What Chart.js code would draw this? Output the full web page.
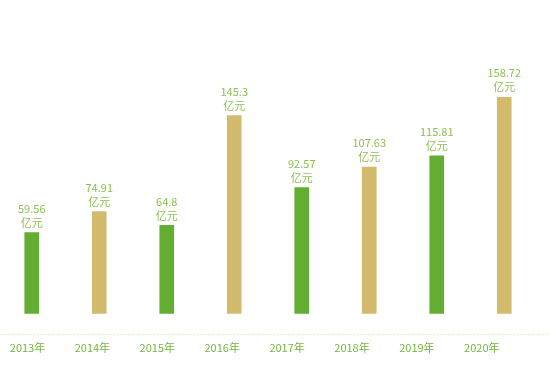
<!DOCTYPE html>
<html>
<head>
<meta charset="utf-8">
<script src="https://cdn.jsdelivr.net/npm/chart.js@4/dist/chart.umd.min.js"></script>
<style>
html,body{margin:0;padding:0;background:#fff;overflow:hidden;width:550px;height:373px;}
#wrap{position:absolute;left:-2px;top:0;width:552px;height:373px;}
</style>
</head>
<body>
<div id="wrap"><canvas id="c" width="552" height="373"></canvas></div>
<script>
const years = ["2013年","2014年","2015年","2016年","2017年","2018年","2019年","2020年"];
const values = [59.56, 74.91, 64.8, 145.3, 92.57, 107.63, 115.81, 158.72];
const unit = "亿元";
const GREEN = "#63ad32", TAN = "#d2bb6c";
const barColors = values.map((v,i)=> i%2===0 ? GREEN : TAN);
const FONT = '"Noto Sans CJK SC", "Noto Sans", sans-serif';

const labelPlugin = {
  id:'valueLabels',
  afterDatasetsDraw(chart){
    const ctx = chart.ctx;
    const meta = chart.getDatasetMeta(0);
    ctx.save();
    ctx.font = '11px ' + FONT;
    ctx.fillStyle = '#8cc152';
    ctx.textAlign = 'center';
    ctx.textBaseline = 'middle';
    meta.data.forEach((bar,i)=>{
      const x = bar.x, y = bar.y;
      ctx.fillText(String(values[i]), x, y - 24);
      ctx.fillText(unit, x, y - 10);
    });
    ctx.restore();
  }
};
const dotLine = {
  id:'dotLine',
  beforeDatasetsDraw(chart){
    const ctx = chart.ctx;
    const y = chart.chartArea.bottom + 20.5;
    ctx.save();
    ctx.strokeStyle = '#f3d49a';
    ctx.lineWidth = 1;
    ctx.setLineDash([1,1.5]);
    ctx.beginPath();
    ctx.moveTo(0, y);
    ctx.lineTo(chart.width, y);
    ctx.stroke();
    ctx.restore();
  }
};

new Chart(document.getElementById('c'), {
  type:'bar',
  data:{
    labels: years,
    datasets:[{data: values, backgroundColor: barColors, barThickness:14, borderWidth:0}]
  },
  options:{
    responsive:false,
    animation:false,
    layout:{padding:{left:0,right:12,top:41,bottom:19}},
    plugins:{legend:{display:false}, tooltip:{enabled:false}},
    scales:{
      x:{display:false},
      y:{display:false, min:0, max:200},
      x2:{
        type:'linear', position:'bottom', axis:'x', bounds:'data', offset:false,
        min:-0.4545, max:7.866,
        afterBuildTicks(ax){ ax.ticks = years.map((_,i)=>({value:i})); },
        afterDataLimits(ax){ ax.min = -0.4545; ax.max = 7.866; },
        grid:{display:false, offset:false, drawTicks:true, tickLength:27},
        border:{display:false},
        ticks:{
          padding:0, autoSkip:false, maxRotation:0,
          color:'#74b53e',
          font:{size:11, family:FONT},
          callback:(v)=> years[v]
        }
      }
    }
  },
  plugins:[labelPlugin, dotLine]
});
</script>
</body>
</html>
